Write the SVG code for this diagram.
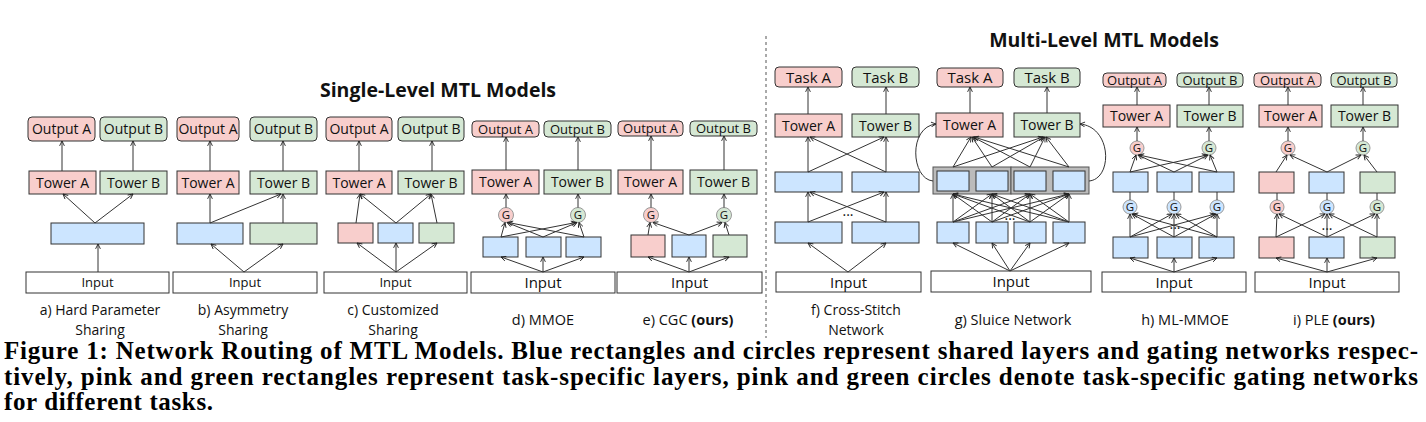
<svg xmlns="http://www.w3.org/2000/svg" width="1426" height="422" viewBox="0 0 1426 422">
<defs>
<marker id="arr" viewBox="0 0 8 8" refX="7.5" refY="4" markerWidth="6" markerHeight="6" markerUnits="userSpaceOnUse" orient="auto">
<path d="M1,0.8 L7.5,4 L1,7.2" fill="none" stroke="#222" stroke-width="1.2"/>
</marker>
<style>
.p{fill:#f8cecc;stroke:#333;stroke-width:1}
.g{fill:#d5e8d4;stroke:#333;stroke-width:1}
.b{fill:#cce5ff;stroke:#333;stroke-width:1}
.w{fill:#fff;stroke:#333;stroke-width:1}
.gb{fill:#bbb;stroke:#555;stroke-width:1}
.cp{fill:#f8cecc;stroke:#999;stroke-width:1}
.cg{fill:#d5e8d4;stroke:#999;stroke-width:1}
.cb{fill:#cce5ff;stroke:#999;stroke-width:1}
text{font-family:"Open Sans","Noto Sans",sans-serif;fill:#111;text-anchor:middle}
.t14{font-size:14px}
.t13{font-size:13px}
.t15{font-size:15px}
.gt{font-size:11.5px}
.lab{font-size:14.5px}
.lab2{font-size:14px}
.ttl{font-size:19.5px;font-weight:bold}
.cap{font-family:"Liberation Serif",serif;font-size:25px;font-weight:bold;text-anchor:start;fill:#000}
#conn line,#conn path{stroke:#333;stroke-width:1;fill:none}
#conn .a{marker-end:url(#arr)}
</style>
</defs>

<text class="ttl" x="438" y="97">Single-Level MTL Models</text>
<text class="ttl" x="1104" y="47">Multi-Level MTL Models</text>
<line x1="766" y1="36" x2="766" y2="338" stroke="#555" stroke-width="1" stroke-dasharray="3,3"/>

<!-- Panel a -->
<g id="panel-a">
<rect class="p" x="28" y="117" width="67" height="24" rx="4"/><text class="t14" x="61.5" y="134">Output A</text>
<rect class="g" x="100" y="117" width="67" height="24" rx="4"/><text class="t14" x="133.5" y="134">Output B</text>
<rect class="p" x="29" y="171" width="67" height="23"/><text class="t14" x="62.5" y="187.5">Tower A</text>
<rect class="g" x="100" y="171" width="67" height="23"/><text class="t14" x="133.5" y="187.5">Tower B</text>
<rect class="b" x="51" y="223" width="93" height="21"/>
<rect class="w" x="26" y="272" width="143" height="21"/><text class="t13" x="97.5" y="287">Input</text>
<text class="lab2" x="100" y="315">a) Hard Parameter</text>
<text class="lab2" x="100" y="334.5">Sharing</text>
</g>

<!-- Panel b -->
<g id="panel-b">
<rect class="p" x="177" y="117" width="62" height="24" rx="4"/><text class="t14" x="208" y="134">Output A</text>
<rect class="g" x="250" y="117" width="67" height="24" rx="4"/><text class="t14" x="283.5" y="134">Output B</text>
<rect class="p" x="177" y="171" width="62" height="23"/><text class="t14" x="208" y="187.5">Tower A</text>
<rect class="g" x="250" y="171" width="67" height="23"/><text class="t14" x="283.5" y="187.5">Tower B</text>
<rect class="b" x="177" y="223" width="66" height="21"/>
<rect class="g" x="250" y="223" width="67" height="21"/>
<rect class="w" x="173" y="272" width="144" height="21"/><text class="t13" x="245" y="287">Input</text>
<text class="lab2" x="243" y="315">b) Asymmetry</text>
<text class="lab2" x="243" y="334.5">Sharing</text>
</g>

<!-- Panel c -->
<g id="panel-c">
<rect class="p" x="326" y="117" width="66" height="24" rx="4"/><text class="t14" x="359" y="134">Output A</text>
<rect class="g" x="398" y="117" width="66" height="24" rx="4"/><text class="t14" x="431" y="134">Output B</text>
<rect class="p" x="326" y="171" width="66" height="23"/><text class="t14" x="359" y="187.5">Tower A</text>
<rect class="g" x="398" y="171" width="66" height="23"/><text class="t14" x="431" y="187.5">Tower B</text>
<rect class="p" x="338" y="223" width="35" height="20"/>
<rect class="b" x="378" y="223" width="35" height="20"/>
<rect class="g" x="419" y="223" width="35" height="20"/>
<rect class="w" x="324" y="272" width="143" height="21"/><text class="t13" x="395.5" y="287">Input</text>
<text class="lab2" x="393" y="315">c) Customized</text>
<text class="lab2" x="393" y="334.5">Sharing</text>
</g>

<!-- Panel d -->
<g id="panel-d">
<rect class="p" x="472" y="121" width="67" height="16" rx="4"/><text class="t13" x="505.5" y="133.5">Output A</text>
<rect class="g" x="544" y="121" width="67" height="16" rx="4"/><text class="t13" x="577.5" y="133.5">Output B</text>
<rect class="p" x="472" y="170" width="67" height="24"/><text class="t14" x="505.5" y="187">Tower A</text>
<rect class="g" x="544" y="170" width="67" height="24"/><text class="t14" x="577.5" y="187">Tower B</text>
<circle class="cp" cx="506" cy="215" r="7.5"/><text class="gt" x="506" y="219">G</text>
<circle class="cg" cx="578" cy="215" r="7.5"/><text class="gt" x="578" y="219">G</text>
<rect class="b" x="483" y="237" width="35" height="20"/>
<rect class="b" x="526" y="237" width="35" height="20"/>
<rect class="b" x="566" y="237" width="35" height="20"/>
<rect class="w" x="471" y="272" width="144" height="21"/><text class="t15" x="543" y="288">Input</text>
<text class="lab" x="543" y="325">d) MMOE</text>
</g>

<!-- Panel e -->
<g id="panel-e">
<rect class="p" x="618" y="121" width="65" height="15" rx="4"/><text class="t13" x="650.5" y="133">Output A</text>
<rect class="g" x="690" y="121" width="67" height="15" rx="4"/><text class="t13" x="723.5" y="133">Output B</text>
<rect class="p" x="618" y="170" width="65" height="24"/><text class="t14" x="650.5" y="187">Tower A</text>
<rect class="g" x="690" y="170" width="67" height="24"/><text class="t14" x="723.5" y="187">Tower B</text>
<circle class="cp" cx="651" cy="215" r="7.5"/><text class="gt" x="651" y="219">G</text>
<circle class="cg" cx="724" cy="215" r="7.5"/><text class="gt" x="724" y="219">G</text>
<rect class="p" x="631" y="235" width="34" height="22"/>
<rect class="b" x="672" y="235" width="34" height="22"/>
<rect class="g" x="713" y="235" width="34" height="22"/>
<rect class="w" x="617" y="272" width="145" height="21"/><text class="t15" x="689.5" y="288">Input</text>
<text class="lab" x="688" y="325">e) CGC <tspan font-weight="bold">(ours)</tspan></text>
</g>

<!-- Panel f -->
<g id="panel-f">
<rect class="p" x="775" y="67" width="67" height="20" rx="4"/><text class="t15" x="808.5" y="82.5">Task A</text>
<rect class="g" x="852" y="67" width="67" height="20" rx="4"/><text class="t15" x="885.5" y="82.5">Task B</text>
<rect class="p" x="775" y="114" width="67" height="23"/><text class="t14" x="808.5" y="130.5">Tower A</text>
<rect class="g" x="852" y="114" width="67" height="23"/><text class="t14" x="885.5" y="130.5">Tower B</text>
<rect class="b" x="775" y="172" width="67" height="20"/>
<rect class="b" x="852" y="172" width="67" height="20"/>
<rect class="b" x="775" y="222" width="67" height="21"/>
<rect class="b" x="852" y="222" width="67" height="21"/>
<text class="t14" x="848" y="216">...</text>
<rect class="w" x="776" y="272" width="145" height="20"/><text class="t15" x="848.5" y="287.5">Input</text>
<text class="lab2" x="856" y="315">f) Cross-Stitch</text>
<text class="lab2" x="856" y="334.5">Network</text>
</g>

<!-- Panel g -->
<g id="panel-g">
<rect class="p" x="937" y="68" width="66" height="19" rx="4"/><text class="t15" x="970" y="83">Task A</text>
<rect class="g" x="1014" y="68" width="66" height="19" rx="4"/><text class="t15" x="1047" y="83">Task B</text>
<rect class="p" x="936" y="113" width="67" height="24"/><text class="t14" x="969.5" y="130">Tower A</text>
<rect class="g" x="1014" y="113" width="66" height="24"/><text class="t14" x="1047" y="130">Tower B</text>
<rect class="gb" x="933" y="167" width="78" height="27"/>
<rect class="gb" x="1011" y="167" width="78" height="27"/>
<rect class="b" x="937" y="171" width="32" height="20"/>
<rect class="b" x="976" y="171" width="32" height="20"/>
<rect class="b" x="1014" y="171" width="32" height="20"/>
<rect class="b" x="1053" y="171" width="32" height="20"/>
<rect class="b" x="937" y="222" width="32" height="21"/>
<rect class="b" x="976" y="222" width="32" height="21"/>
<rect class="b" x="1014" y="222" width="32" height="21"/>
<rect class="b" x="1053" y="222" width="32" height="21"/>
<text class="t14" x="1010" y="220">...</text>
<rect class="w" x="931" y="271" width="160" height="21"/><text class="t15" x="1011" y="287">Input</text>
<text class="lab" x="1013" y="325">g) Sluice Network</text>
</g>

<!-- Panel h -->
<g id="panel-h">
<rect class="p" x="1103" y="73" width="63" height="14" rx="4"/><text class="t13" x="1134.5" y="84.5">Output A</text>
<rect class="g" x="1177" y="73" width="66" height="14" rx="4"/><text class="t13" x="1210" y="84.5">Output B</text>
<rect class="p" x="1103" y="105" width="67" height="22"/><text class="t14" x="1136.5" y="121">Tower A</text>
<rect class="g" x="1177" y="105" width="66" height="22"/><text class="t14" x="1210" y="121">Tower B</text>
<circle class="cp" cx="1137" cy="148" r="7"/><text class="gt" x="1137" y="152">G</text>
<circle class="cg" cx="1209" cy="148" r="7"/><text class="gt" x="1209" y="152">G</text>
<rect class="b" x="1113" y="172" width="35" height="20"/>
<rect class="b" x="1157" y="172" width="35" height="20"/>
<rect class="b" x="1199" y="172" width="35" height="20"/>
<circle class="cb" cx="1130" cy="207" r="7"/><text class="gt" x="1130" y="211">G</text>
<circle class="cb" cx="1174" cy="207" r="7"/><text class="gt" x="1174" y="211">G</text>
<circle class="cb" cx="1217" cy="207" r="7"/><text class="gt" x="1217" y="211">G</text>
<rect class="b" x="1113" y="237" width="35" height="21"/>
<rect class="b" x="1157" y="237" width="35" height="21"/>
<rect class="b" x="1199" y="237" width="35" height="21"/>
<text class="t14" x="1175" y="229">...</text>
<rect class="w" x="1102" y="272" width="144" height="20"/><text class="t15" x="1174" y="287.5">Input</text>
<text class="lab" x="1185" y="325">h) ML-MMOE</text>
</g>

<!-- Panel i -->
<g id="panel-i">
<rect class="p" x="1254" y="73" width="67" height="14" rx="4"/><text class="t13" x="1287.5" y="84.5">Output A</text>
<rect class="g" x="1331" y="73" width="66" height="14" rx="4"/><text class="t13" x="1364" y="84.5">Output B</text>
<rect class="p" x="1259" y="105" width="63" height="22"/><text class="t14" x="1290.5" y="121">Tower A</text>
<rect class="g" x="1331" y="105" width="67" height="22"/><text class="t14" x="1364.5" y="121">Tower B</text>
<circle class="cp" cx="1288" cy="148" r="7"/><text class="gt" x="1288" y="152">G</text>
<circle class="cg" cx="1363" cy="148" r="7"/><text class="gt" x="1363" y="152">G</text>
<rect class="p" x="1259" y="172" width="35" height="21"/>
<rect class="b" x="1309" y="172" width="35" height="21"/>
<rect class="g" x="1360" y="172" width="35" height="21"/>
<circle class="cp" cx="1277" cy="207" r="7"/><text class="gt" x="1277" y="211">G</text>
<circle class="cb" cx="1327" cy="207" r="7"/><text class="gt" x="1327" y="211">G</text>
<circle class="cg" cx="1377" cy="207" r="7"/><text class="gt" x="1377" y="211">G</text>
<rect class="p" x="1259" y="237" width="35" height="21"/>
<rect class="b" x="1309" y="237" width="35" height="21"/>
<rect class="g" x="1360" y="237" width="35" height="21"/>
<text class="t14" x="1327" y="230">...</text>
<rect class="w" x="1255" y="272" width="144" height="20"/><text class="t15" x="1327" y="287.5">Input</text>
<text class="lab" x="1334" y="325">i) PLE <tspan font-weight="bold">(ours)</tspan></text>
</g>

<g id="conn">
<!-- a -->
<line class="a" x1="62" y1="171" x2="62" y2="141"/>
<line class="a" x1="133" y1="171" x2="133" y2="141"/>
<line class="a" x1="95" y1="223" x2="63" y2="194"/>
<line class="a" x1="95" y1="223" x2="133" y2="194"/>
<line class="a" x1="98" y1="272" x2="98" y2="244"/>
<!-- b -->
<line class="a" x1="210" y1="171" x2="210" y2="141"/>
<line class="a" x1="283" y1="171" x2="283" y2="141"/>
<line class="a" x1="210" y1="223" x2="210" y2="194"/>
<line class="a" x1="210" y1="223" x2="281" y2="194"/>
<line class="a" x1="283" y1="223" x2="283" y2="194"/>
<line class="a" x1="244" y1="272" x2="211" y2="244"/>
<line class="a" x1="244" y1="272" x2="283" y2="244"/>
<!-- c -->
<line class="a" x1="359" y1="171" x2="359" y2="141"/>
<line class="a" x1="432" y1="171" x2="432" y2="141"/>
<line class="a" x1="356" y1="223" x2="360" y2="194"/>
<line class="a" x1="396" y1="223" x2="360" y2="194"/>
<line class="a" x1="396" y1="223" x2="431" y2="194"/>
<line class="a" x1="437" y1="223" x2="431" y2="194"/>
<line class="a" x1="396" y1="272" x2="357" y2="243"/>
<line class="a" x1="396" y1="272" x2="396" y2="243"/>
<line class="a" x1="396" y1="272" x2="437" y2="243"/>
<!-- d -->
<line class="a" x1="506" y1="170" x2="506" y2="137"/>
<line class="a" x1="578" y1="170" x2="578" y2="137"/>
<line class="a" x1="506" y1="207.5" x2="506" y2="194"/>
<line class="a" x1="578" y1="207.5" x2="578" y2="194"/>
<line class="a" x1="501" y1="237" x2="505" y2="222.5"/>
<line class="a" x1="501" y1="237" x2="576" y2="222.5"/>
<line class="a" x1="543" y1="237" x2="507" y2="222.5"/>
<line class="a" x1="543" y1="237" x2="577" y2="222.5"/>
<line class="a" x1="584" y1="237" x2="508" y2="222.5"/>
<line class="a" x1="584" y1="237" x2="579" y2="222.5"/>
<line class="a" x1="543" y1="272" x2="501" y2="257"/>
<line class="a" x1="543" y1="272" x2="543" y2="257"/>
<line class="a" x1="543" y1="272" x2="584" y2="257"/>
<!-- e -->
<line class="a" x1="651" y1="170" x2="651" y2="136"/>
<line class="a" x1="724" y1="170" x2="724" y2="136"/>
<line class="a" x1="651" y1="207.5" x2="651" y2="194"/>
<line class="a" x1="724" y1="207.5" x2="724" y2="194"/>
<line class="a" x1="648" y1="235" x2="650" y2="222.5"/>
<line class="a" x1="689" y1="235" x2="653" y2="222.5"/>
<line class="a" x1="689" y1="235" x2="722" y2="222.5"/>
<line class="a" x1="729" y1="235" x2="725" y2="222.5"/>
<line class="a" x1="689" y1="272" x2="648" y2="257"/>
<line class="a" x1="689" y1="272" x2="689" y2="257"/>
<line class="a" x1="689" y1="272" x2="729" y2="257"/>
<!-- f -->
<line class="a" x1="808" y1="114" x2="808" y2="87"/>
<line class="a" x1="886" y1="114" x2="886" y2="87"/>
<line class="a" x1="808" y1="172" x2="808" y2="137"/>
<line class="a" x1="886" y1="172" x2="886" y2="137"/>
<line class="a" x1="808" y1="172" x2="884" y2="137"/>
<line class="a" x1="886" y1="172" x2="810" y2="137"/>
<line class="a" x1="808" y1="222" x2="808" y2="192"/>
<line class="a" x1="886" y1="222" x2="886" y2="192"/>
<line class="a" x1="808" y1="222" x2="884" y2="192"/>
<line class="a" x1="886" y1="222" x2="810" y2="192"/>
<line class="a" x1="848" y1="272" x2="808" y2="243"/>
<line class="a" x1="848" y1="272" x2="886" y2="243"/>
<!-- g -->
<line class="a" x1="970" y1="113" x2="970" y2="87"/>
<line class="a" x1="1047" y1="113" x2="1047" y2="87"/>
<line class="a" x1="953" y1="167" x2="971" y2="137"/>
<line class="a" x1="953" y1="167" x2="1043" y2="137"/>
<line class="a" x1="992" y1="167" x2="972" y2="137"/>
<line class="a" x1="992" y1="167" x2="1044" y2="137"/>
<line class="a" x1="1030" y1="167" x2="973" y2="137"/>
<line class="a" x1="1030" y1="167" x2="1045" y2="137"/>
<line class="a" x1="1069" y1="167" x2="974" y2="137"/>
<line class="a" x1="1069" y1="167" x2="1046" y2="137"/>
<line class="a" x1="953" y1="222" x2="953" y2="194"/>
<line class="a" x1="953" y1="222" x2="992" y2="194"/>
<line class="a" x1="953" y1="222" x2="1030" y2="194"/>
<line class="a" x1="953" y1="222" x2="1069" y2="194"/>
<line class="a" x1="992" y1="222" x2="953" y2="194"/>
<line class="a" x1="992" y1="222" x2="992" y2="194"/>
<line class="a" x1="992" y1="222" x2="1030" y2="194"/>
<line class="a" x1="992" y1="222" x2="1069" y2="194"/>
<line class="a" x1="1030" y1="222" x2="953" y2="194"/>
<line class="a" x1="1030" y1="222" x2="992" y2="194"/>
<line class="a" x1="1030" y1="222" x2="1030" y2="194"/>
<line class="a" x1="1030" y1="222" x2="1069" y2="194"/>
<line class="a" x1="1069" y1="222" x2="953" y2="194"/>
<line class="a" x1="1069" y1="222" x2="992" y2="194"/>
<line class="a" x1="1069" y1="222" x2="1030" y2="194"/>
<line class="a" x1="1069" y1="222" x2="1069" y2="194"/>
<line class="a" x1="1010" y1="271" x2="953" y2="243"/>
<line class="a" x1="1010" y1="271" x2="992" y2="243"/>
<line class="a" x1="1010" y1="271" x2="1030" y2="243"/>
<line class="a" x1="1010" y1="271" x2="1069" y2="243"/>
<path class="a" d="M933,181 C911,179 908,127 936,124"/>
<path class="a" d="M1089,181 C1113,179 1112,127 1080,124"/>
<!-- h -->
<line class="a" x1="1137" y1="105" x2="1137" y2="87"/>
<line class="a" x1="1209" y1="105" x2="1209" y2="87"/>
<line class="a" x1="1137" y1="141" x2="1137" y2="127"/>
<line class="a" x1="1209" y1="141" x2="1209" y2="127"/>
<line class="a" x1="1130" y1="172" x2="1136" y2="155"/>
<line class="a" x1="1130" y1="172" x2="1207" y2="155"/>
<line class="a" x1="1174" y1="172" x2="1138" y2="155"/>
<line class="a" x1="1174" y1="172" x2="1208" y2="155"/>
<line class="a" x1="1217" y1="172" x2="1139" y2="155"/>
<line class="a" x1="1217" y1="172" x2="1210" y2="155"/>
<line x1="1130" y1="200" x2="1130" y2="192"/>
<line x1="1174" y1="200" x2="1174" y2="192"/>
<line x1="1217" y1="200" x2="1217" y2="192"/>
<line class="a" x1="1130" y1="237" x2="1130" y2="214"/>
<line class="a" x1="1130" y1="237" x2="1172" y2="214"/>
<line class="a" x1="1130" y1="237" x2="1215" y2="214"/>
<line class="a" x1="1174" y1="237" x2="1132" y2="214"/>
<line class="a" x1="1174" y1="237" x2="1174" y2="214"/>
<line class="a" x1="1174" y1="237" x2="1216" y2="214"/>
<line class="a" x1="1217" y1="237" x2="1133" y2="214"/>
<line class="a" x1="1217" y1="237" x2="1176" y2="214"/>
<line class="a" x1="1217" y1="237" x2="1217" y2="214"/>
<line class="a" x1="1174" y1="272" x2="1130" y2="258"/>
<line class="a" x1="1174" y1="272" x2="1174" y2="258"/>
<line class="a" x1="1174" y1="272" x2="1217" y2="258"/>
<!-- i -->
<line class="a" x1="1288" y1="105" x2="1288" y2="87"/>
<line class="a" x1="1363" y1="105" x2="1363" y2="87"/>
<line class="a" x1="1288" y1="141" x2="1288" y2="127"/>
<line class="a" x1="1363" y1="141" x2="1363" y2="127"/>
<line class="a" x1="1276" y1="172" x2="1287" y2="155"/>
<line class="a" x1="1327" y1="172" x2="1290" y2="155"/>
<line class="a" x1="1327" y1="172" x2="1361" y2="155"/>
<line class="a" x1="1377" y1="172" x2="1364" y2="155"/>
<line x1="1277" y1="200" x2="1277" y2="193"/>
<line x1="1327" y1="200" x2="1327" y2="193"/>
<line x1="1377" y1="200" x2="1377" y2="193"/>
<line class="a" x1="1276" y1="237" x2="1277" y2="214"/>
<line class="a" x1="1276" y1="237" x2="1325" y2="214"/>
<line class="a" x1="1327" y1="237" x2="1279" y2="214"/>
<line class="a" x1="1327" y1="237" x2="1327" y2="214"/>
<line class="a" x1="1327" y1="237" x2="1375" y2="214"/>
<line class="a" x1="1377" y1="237" x2="1329" y2="214"/>
<line class="a" x1="1377" y1="237" x2="1377" y2="214"/>
<line class="a" x1="1327" y1="272" x2="1276" y2="258"/>
<line class="a" x1="1327" y1="272" x2="1327" y2="258"/>
<line class="a" x1="1327" y1="272" x2="1377" y2="258"/>
</g>

<g id="caption">
<text class="cap" x="4" y="359" textLength="1414" lengthAdjust="spacing">Figure 1: Network Routing of MTL Models. Blue rectangles and circles represent shared layers and gating networks respec-</text>
<text class="cap" x="4" y="385" textLength="1414" lengthAdjust="spacing">tively, pink and green rectangles represent task-specific layers, pink and green circles denote task-specific gating networks</text>
<text class="cap" x="4" y="410" textLength="209" lengthAdjust="spacing">for different tasks.</text>
</g>
</svg>
